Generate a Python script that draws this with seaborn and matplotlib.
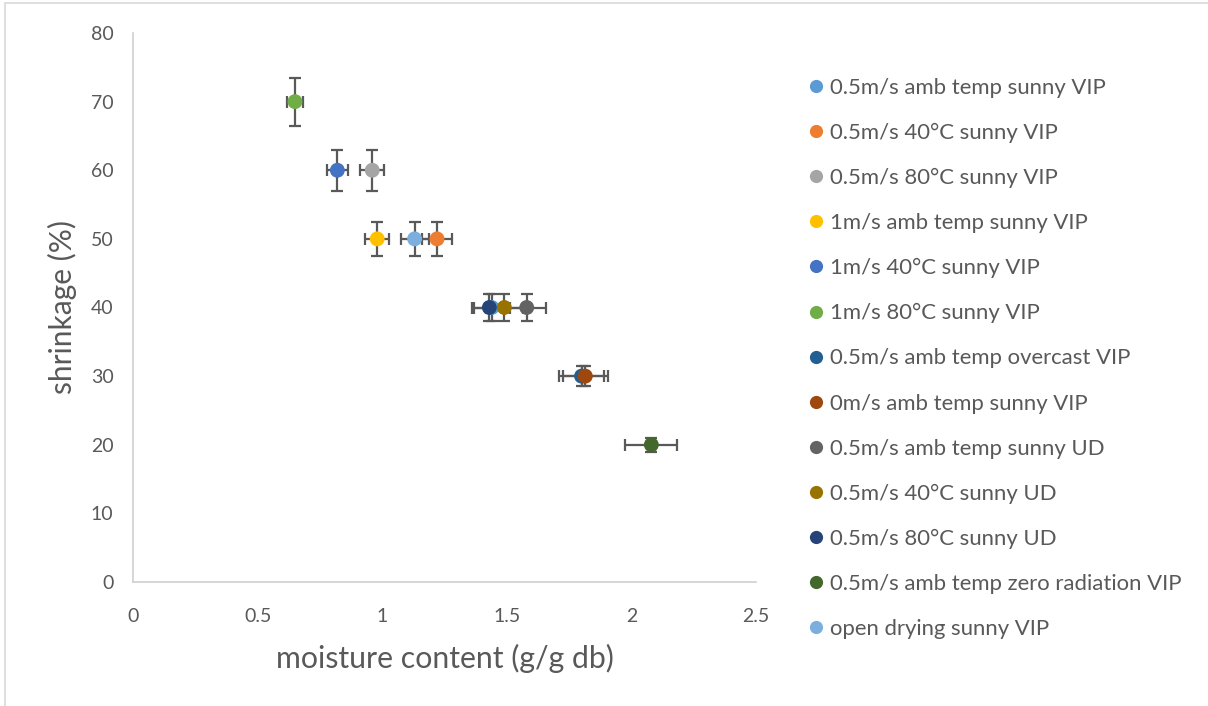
import matplotlib
matplotlib.use("Agg")
import matplotlib.pyplot as plt
from matplotlib.patches import Rectangle
from matplotlib.lines import Line2D
import seaborn as sns
import pandas as pd

# Drying conditions and their final moisture content / shrinkage
conditions = [
    "0.5m/s amb temp sunny VIP",
    "0.5m/s 40°C sunny VIP",
    "0.5m/s 80°C sunny VIP",
    "1m/s amb temp sunny VIP",
    "1m/s 40°C sunny VIP",
    "1m/s 80°C sunny VIP",
    "0.5m/s amb temp overcast VIP",
    "0m/s amb temp sunny VIP",
    "0.5m/s amb temp sunny UD",
    "0.5m/s 40°C sunny UD",
    "0.5m/s 80°C sunny UD",
    "0.5m/s amb temp zero radiation VIP",
    "open drying sunny VIP",
]
moisture = [1.44, 1.22, 0.96, 0.98, 0.82, 0.65, 1.80, 1.815, 1.58, 1.49, 1.43, 2.08, 1.13]
shrinkage = [40, 50, 60, 50, 60, 70, 30, 30, 40, 40, 40, 20, 50]
colors = ["#5B9BD5", "#ED7D31", "#A5A5A5", "#FFC000", "#4472C4", "#70AD47",
          "#255E91", "#9E480E", "#636363", "#997300", "#264478", "#43682B", "#7CAFDD"]
error_pct = 0.05  # percentage error bars on both axes

x_ticks = [0, 0.5, 1, 1.5, 2, 2.5]
y_ticks = [0, 10, 20, 30, 40, 50, 60, 70, 80]

df = pd.DataFrame({"condition": conditions, "moisture": moisture, "shrinkage": shrinkage})
palette = dict(zip(conditions, colors))

sns.set_theme(style="white")
plt.rcParams["font.family"] = ["Lato", "DejaVu Sans"]

fig = plt.figure(figsize=(12.08, 7.06), dpi=100)
ax = fig.add_axes([133 / 1208, 1 - 582 / 706, (756 - 133) / 1208, (582 - 33) / 706])

text_col = "#595959"
bar_col = "#595959"

# error bars under the markers
for _, r in df.iterrows():
    ax.errorbar(r["moisture"], r["shrinkage"],
                xerr=r["moisture"] * error_pct, yerr=r["shrinkage"] * error_pct,
                fmt="none", ecolor=bar_col, elinewidth=1.6, capsize=4.4,
                capthick=1.6, zorder=2)

sns.scatterplot(data=df, x="moisture", y="shrinkage", hue="condition",
                hue_order=conditions, palette=palette, s=115, linewidth=0,
                edgecolor="none", ax=ax, zorder=3, legend=False)

ax.set_xlim(0, 2.5)
ax.set_ylim(0, 80)
ax.set_xticks(x_ticks)
ax.set_xticklabels([f"{t:g}" for t in x_ticks])
ax.set_yticks(y_ticks)
ax.tick_params(axis="both", length=0, labelsize=14, colors=text_col)
ax.tick_params(axis="x", pad=19)
ax.tick_params(axis="y", pad=14)
for s in ["top", "right"]:
    ax.spines[s].set_visible(False)
for s in ["left", "bottom"]:
    ax.spines[s].set_color("#D0D0D0")
    ax.spines[s].set_linewidth(1.2)
ax.grid(False)
ax.set_xlabel("moisture content (g/g db)", fontsize=21.8, color=text_col, labelpad=13)
ax.set_ylabel("shrinkage (%)", fontsize=21.5, color=text_col, labelpad=10)

handles = [Line2D([], [], marker="o", linestyle="none", markersize=9.5,
                  markerfacecolor=c, markeredgewidth=0) for c in colors]
leg = fig.legend(handles, conditions, loc="upper left",
                 bbox_to_anchor=(808 / 1208, 1 - 77.5 / 706), frameon=False,
                 fontsize=15.9, labelspacing=1.135, handlelength=0.7,
                 handletextpad=0.3, borderaxespad=0, borderpad=0)
for t in leg.get_texts():
    t.set_color(text_col)

# chart area outline
fig.patches.append(Rectangle((5 / 1208, -0.1), 1.2, 1 - 3 / 706 + 0.1,
                             transform=fig.transFigure, fill=False,
                             edgecolor="#D9D9D9", linewidth=1.2))

fig.savefig("out.png", dpi=100, facecolor="white")
